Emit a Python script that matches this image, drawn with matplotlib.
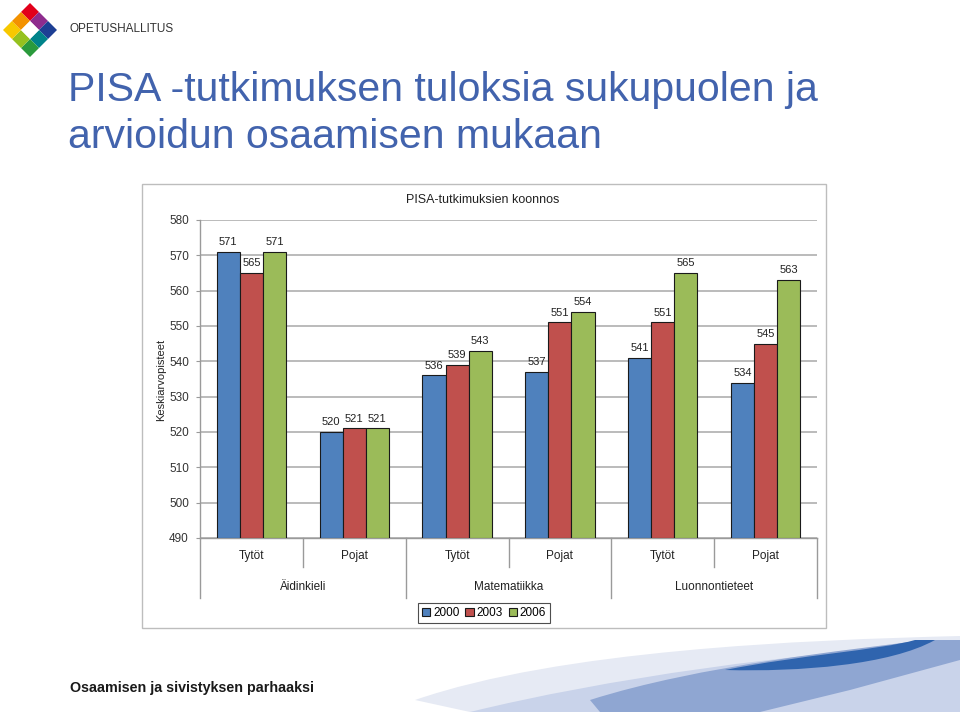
import matplotlib
matplotlib.use("Agg")
import matplotlib.pyplot as plt
import matplotlib.transforms as mtransforms
from matplotlib.patches import Rectangle, Polygon, PathPatch
from matplotlib.path import Path
import numpy as np

plt.rcParams['font.family'] = ['Liberation Sans Narrow', 'Liberation Sans', 'DejaVu Sans']

# ---------------- data ----------------
subjects = ["Äidinkieli", "Matematiikka", "Luonnontieteet"]
genders = ["Tytöt", "Pojat"]
years = ["2000", "2003", "2006"]
scores_2000 = [571, 520, 536, 537, 541, 534]
scores_2003 = [565, 521, 539, 551, 551, 545]
scores_2006 = [571, 521, 543, 554, 565, 563]
y_ticks = [490, 500, 510, 520, 530, 540, 550, 560, 570, 580]

colors = ["#4F81BD", "#C0504D", "#9BBB59"]

W, H = 960, 712
fig = plt.figure(figsize=(W / 100, H / 100), dpi=100)

# background / decoration axes in pixel coordinates
bg = fig.add_axes([0, 0, 1, 1], zorder=0)
bg.set_xlim(0, W)
bg.set_ylim(H, 0)
bg.axis("off")

# logo diamond
logo_cols = {(-1, -1): "#E2001A", (0, -1): "#8E2C8E", (1, -1): "#1D3F94",
             (1, 0): "#00838A", (1, 1): "#2A9A3C", (0, 1): "#95C11F",
             (-1, 1): "#F7C800", (-1, 0): "#F39200", (0, 0): "#FFFFFF"}
cx0, cy0, hd = 30, 30, 9
for (a, b), c in logo_cols.items():
    cx = cx0 + (a - b) * hd
    cy = cy0 + (a + b) * hd
    bg.add_patch(Polygon([(cx, cy - hd), (cx + hd, cy), (cx, cy + hd), (cx - hd, cy)],
                         closed=True, facecolor=c, edgecolor="none"))
bg.text(70, 29, "OPETUSHALLITUS", fontsize=8.5, color="#333333",
        va="center", ha="left", family=["Liberation Sans", "DejaVu Sans"])

# title
bg.text(68, 90, "PISA -tutkimuksen tuloksia sukupuolen ja", fontsize=29.5,
        color="#4263AD", va="center", ha="left", family=["Liberation Sans", "DejaVu Sans"])
bg.text(68, 137, "arvioidun osaamisen mukaan", fontsize=29.5,
        color="#4263AD", va="center", ha="left", family=["Liberation Sans", "DejaVu Sans"])

# footer
bg.text(70, 688, "Osaamisen ja sivistyksen parhaaksi", fontsize=10.3, color="#1a1a1a",
        va="center", ha="left", fontweight="bold", family=["Liberation Sans", "DejaVu Sans"])

# decorative waves
def curve_patch(verts, codes, fc, alpha=1.0):
    bg.add_patch(PathPatch(Path(verts, codes), facecolor=fc, edgecolor="none", alpha=alpha))

M, C, L, Z = Path.MOVETO, Path.CURVE4, Path.LINETO, Path.CLOSEPOLY
curve_patch([(415, 700), (560, 650), (800, 640), (960, 636), (960, 712), (470, 712), (415, 700), (415, 700)],
            [M, C, C, C, L, L, L, Z], "#E6EAF4")
curve_patch([(470, 712), (600, 680), (800, 650), (960, 645), (960, 712), (470, 712), (470, 712)],
            [M, C, C, C, L, L, Z], "#C9D3EA")
curve_patch([(590, 700), (700, 665), (850, 650), (925, 640), (960, 640), (960, 660), (850, 690),
             (760, 712), (600, 712), (590, 700)],
            [M, C, C, C, L, L, L, L, L, Z], "#8FA6D2")
curve_patch([(725, 670), (800, 655), (880, 650), (915, 640), (935, 640), (890, 665), (800, 672), (725, 670), (725, 670)],
            [M, C, C, C, L, C, C, C, Z], "#2F64AE")

# chart frame
bg.add_patch(Rectangle((142, 184), 684, 444, facecolor="white", edgecolor="#BDBDBD", lw=1.0))

# ---------------- chart ----------------
pl, pr, pt, pb = 200, 817, 220, 538
ax = fig.add_axes([pl / W, (H - pb) / H, (pr - pl) / W, (pb - pt) / H], zorder=2)
ax.patch.set_alpha(0)

x = np.arange(len(scores_2000))
bw = 0.225
for k, (vals, col) in enumerate(zip([scores_2000, scores_2003, scores_2006], colors)):
    xs = x + (k - 1) * bw
    ax.bar(xs, np.array(vals) - 490, bottom=490, width=bw, color=col,
           edgecolor="#1a1a1a", linewidth=0.8, label=years[k], zorder=3)
    for xi, v in zip(xs, vals):
        ax.text(xi, v + 1.3, str(v), ha="center", va="bottom", fontsize=8, color="#222222")

ax.set_xlim(-0.5, len(x) - 0.5)
ax.set_ylim(490, 580)
ax.set_yticks(y_ticks)
ax.tick_params(axis="y", labelsize=8.5, colors="#333333", length=3, color="#9a9a9a", pad=5)
ax.set_xticks([])
ax.grid(axis="y", color="#AFAFAF", lw=1.2, zorder=0)
for s in ["top", "right"]:
    ax.spines[s].set_visible(False)
for s in ["left", "bottom"]:
    ax.spines[s].set_color("#9a9a9a")
    ax.spines[s].set_linewidth(1.0)

# y-axis title
bg.text(161, 380, "Keskiarvopisteet", fontsize=8, color="#222222", rotation=90,
        ha="center", va="center")

# multi-level category axis
trans = mtransforms.blended_transform_factory(ax.transData, ax.transAxes)
ph = pb - pt
y_inner_end = -(567 - pb) / ph
y_outer_end = -(598 - pb) / ph
for i in range(len(x) + 1):
    xb = i - 0.5
    yend = y_outer_end if i % 2 == 0 else y_inner_end
    ax.plot([xb, xb], [0, yend], transform=trans, color="#9a9a9a", lw=1.0, clip_on=False)
for i in range(len(x)):
    ax.text(i, -(556 - pb) / ph, genders[i % 2], transform=trans, ha="center", va="center",
            fontsize=8.5, color="#222222")
for j, s in enumerate(subjects):
    ax.text(2 * j + 0.5, -(587 - pb) / ph, s, transform=trans, ha="center", va="center",
            fontsize=8.5, color="#222222")

# chart title
bg.text(483, 200, "PISA-tutkimuksien koonnos", fontsize=9, ha="center", va="center", color="#222222")

# legend
leg = fig.legend(loc="center", bbox_to_anchor=(484 / W, (H - 613) / H), ncol=3, fontsize=8.5,
                 handlelength=0.7, handleheight=0.7, handletextpad=0.25, columnspacing=0.5,
                 frameon=True, fancybox=False, borderpad=0.3, borderaxespad=0)
leg.get_frame().set_edgecolor("#222222")
leg.get_frame().set_linewidth(0.8)

fig.savefig("out.png", dpi=100)
